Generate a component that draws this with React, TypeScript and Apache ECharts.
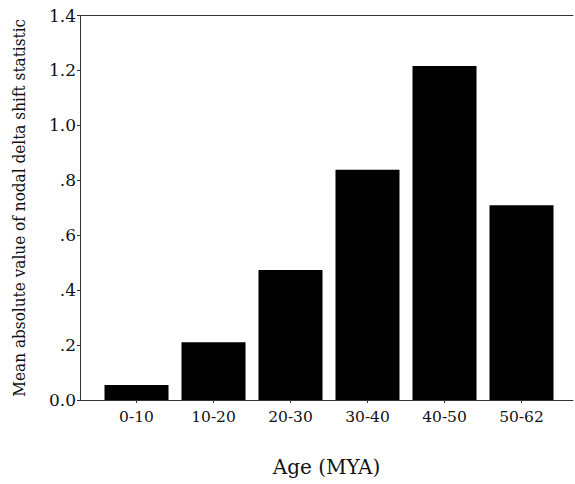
import React, { useEffect, useRef } from "react";
import * as echarts from "echarts";

const categories = ["0-10", "10-20", "20-30", "30-40", "40-50", "50-62"];
const values = [0.055, 0.21, 0.473, 0.838, 1.216, 0.709];
const yTicks = [0, 0.2, 0.4, 0.6, 0.8, 1.0, 1.2, 1.4];
const yTickLabels = ["0.0", ".2", ".4", ".6", ".8", "1.0", "1.2", "1.4"];

const FONT = "DejaVu Serif";
const FONT_COND = "DejaVu Serif Condensed";

export default function App() {
  const ref = useRef<HTMLDivElement>(null);
  useEffect(() => {
    if (!ref.current) return;
    const chart = echarts.init(ref.current, null, { renderer: "svg" });
    const labelFor = (v: number) => {
      const i = yTicks.findIndex((t) => Math.abs(t - v) < 1e-6);
      return i >= 0 ? yTickLabels[i] : "";
    };
    chart.setOption({
      animation: false,
      backgroundColor: "#ffffff",
      textStyle: { fontFamily: FONT },
      grid: [
        { left: 80, right: 2, top: 15.5, bottom: 84, outerBoundsMode: "none", containLabel: false },
        { left: 98, right: 15, top: 15.5, bottom: 84, outerBoundsMode: "none", containLabel: false },
      ],
      xAxis: [
        {
          type: "value",
          gridIndex: 0,
          position: "bottom",
          min: 0,
          max: 1,
          axisLine: { show: true, lineStyle: { color: "#333", width: 1 } },
          axisTick: { show: false },
          axisLabel: { show: false },
          splitLine: { show: false },
          name: "Age (MYA)",
          nameLocation: "middle",
          nameGap: 57,
          nameTextStyle: { fontFamily: FONT, fontSize: 20, color: "#111" },
        },
        {
          type: "value",
          gridIndex: 0,
          position: "top",
          min: 0,
          max: 1,
          axisLine: { show: true, lineStyle: { color: "#333", width: 1 } },
          axisTick: { show: false },
          axisLabel: { show: false },
          splitLine: { show: false },
        },
        {
          type: "category",
          gridIndex: 1,
          data: categories,
          position: "bottom",
          axisLine: { show: false },
          axisTick: { show: true, alignWithLabel: true, length: 3, lineStyle: { color: "#333" } },
          axisLabel: { fontFamily: FONT, fontSize: 15.5, color: "#111", margin: 9 },
          splitLine: { show: false },
        },
      ],
      yAxis: [
        {
          type: "value",
          gridIndex: 0,
          min: 0,
          max: 1.4,
          interval: 0.2,
          axisLine: { show: true, lineStyle: { color: "#333", width: 1 } },
          axisTick: { show: true, length: 3, lineStyle: { color: "#333" } },
          axisLabel: {
            fontFamily: FONT,
            fontSize: 17,
            color: "#111",
            margin: 4,
            formatter: (v: number) => labelFor(v),
          },
          splitLine: { show: false },
          name: "Mean absolute value of nodal delta shift statistic",
          nameLocation: "middle",
          nameGap: 53,
          nameTextStyle: { fontFamily: FONT_COND, fontSize: 17, color: "#111" },
        },
        {
          type: "value",
          gridIndex: 1,
          min: 0,
          max: 1.4,
          interval: 0.2,
          show: false,
          splitLine: { show: false },
        },
      ],
      series: [
        {
          type: "bar",
          xAxisIndex: 2,
          yAxisIndex: 1,
          data: values,
          barWidth: 64,
          itemStyle: { color: "#000000" },
        },
      ],
    });
    return () => chart.dispose();
  }, []);
  return (
    <div
      ref={ref}
      style={{ position: "fixed", left: 0, top: 0, width: 575, height: 484, background: "#fff" }}
    />
  );
}
